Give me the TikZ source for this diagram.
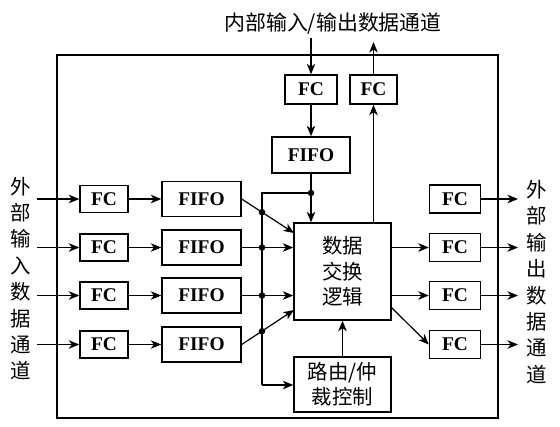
\documentclass[tikz,border=0pt]{standalone}
\usepackage{fontspec}
\setmainfont{Liberation Serif}
\newfontfamily\cjk{Noto Sans CJK SC}
\usetikzlibrary{arrows.meta,calc}
\begin{document}
\begin{tikzpicture}[x=1bp,y=-1bp,
  box/.style={draw, line width=1.4bp, inner sep=0pt, font=\fontsize{19.5}{19.5}\selectfont\bfseries},
  cbox/.style={draw, line width=1.4bp, inner sep=0pt, align=center, font=\fontsize{20.5}{25.5}\selectfont\cjk},
  conn/.style={line width=1.2bp},
  arr/.style={conn, -{Stealth[length=10.5bp,width=8.5bp,inset=3bp]}},
  dot/.style={circle, fill, inner sep=0pt, minimum size=6.5bp},
  lbl/.style={align=center, inner sep=0pt, font=\fontsize{20.5}{26.5}\selectfont\cjk}]
\useasboundingbox (0,0) rectangle (560,426);
% frame
\node[draw, line width=1.4bp, minimum width=441bp, minimum height=363bp, inner sep=0pt] (outer) at (277.5,236.5) {};
% labels
\node[font=\fontsize{21}{21}\selectfont\cjk, inner sep=0pt] (title) at (333,24) {内部输入/输出数据通道};
\node[lbl] (llab) at (21,278.5) {外\\部\\输\\入\\数\\据\\通\\道};
\node[lbl] (rlab) at (537,282) {外\\部\\输\\出\\数\\据\\通\\道};
% top blocks
\node[box, minimum width=52bp, minimum height=29bp] (fcin) at (311,89.5) {FC};
\node[box, minimum width=47bp, minimum height=29bp] (fcout) at (373.5,89.5) {FC};
\node[box, minimum width=78bp, minimum height=36bp] (fifot) at (311,155) {FIFO};
\node[cbox, minimum width=97bp, minimum height=97bp] (xbox) at (342.5,271.5) {数据\\交换\\逻辑};
\node[cbox, minimum width=97bp, minimum height=55bp] (route) at (342.5,384.5) {路由/仲\\裁控制};
% rows
\foreach \i/\y in {1/199,2/247.5,3/295.5,4/344.5}{
  \node[box, minimum width=48bp, minimum height=27bp] (fcl\i) at (104,\y) {FC};
  \node[box, minimum width=79bp, minimum height=35bp] (fifo\i) at (201.5,\y) {FIFO};
  \node[box, minimum width=51bp, minimum height=28bp] (fcr\i) at (455,\y) {FC};
  \coordinate (in\i) at (37,\y);
  \coordinate (out\i) at (518,\y);
}
\foreach \i in {1,...,4}{
  \draw[arr] (in\i) -- (fcl\i);
  \draw[arr] (fcl\i) -- (fifo\i);
  \draw[arr] (fcr\i) -- (out\i);
}
% top connectors
\coordinate (tin) at (311,38);
\coordinate (tout) at (373.5,42);
\draw[arr] (tin) -- (fcin);
\draw[arr] (fcin) -- (fifot);
\draw[arr] (fcout) -- (tout);
\draw[arr] (xbox.north -| fcout) -- (fcout);
\draw[arr] (fifot) -- (xbox.north -| fifot);
% bus
\coordinate (ftdot) at (311,193);
\coordinate (bustop) at (262,193);
\coordinate (busbot) at (262,385);
\draw[conn] (ftdot) -- (bustop) -- (busbot);
\draw[arr] (busbot) -- (busbot -| route.west);
\node[dot] (d0) at (ftdot) {};
% inputs to exchange
\coordinate (x1) at (294,233);
\coordinate (x4) at (294,310);
\draw[arr] (fifo1.east) -- (x1);
\draw[arr] (fifo4.east) -- (x4);
\draw[arr] (fifo2) -- (fifo2 -| xbox.west);
\draw[arr] (fifo3) -- (fifo3 -| xbox.west);
\node[dot] (d1) at (intersection of fifo1.east--x1 and bustop--busbot) {};
\node[dot] (d2) at (bustop |- fifo2) {};
\node[dot] (d3) at (bustop |- fifo3) {};
\node[dot] (d4) at (intersection of fifo4.east--x4 and bustop--busbot) {};
% outputs
\draw[arr] (xbox.east |- fcr2) -- (fcr2);
\draw[arr] (xbox.east |- fcr3) -- (fcr3);
\coordinate (xo4) at (391,307);
\draw[arr] (xo4) -- (fcr4.west);
% routing
\draw[arr] (route) -- (xbox);
\end{tikzpicture}
\end{document}
